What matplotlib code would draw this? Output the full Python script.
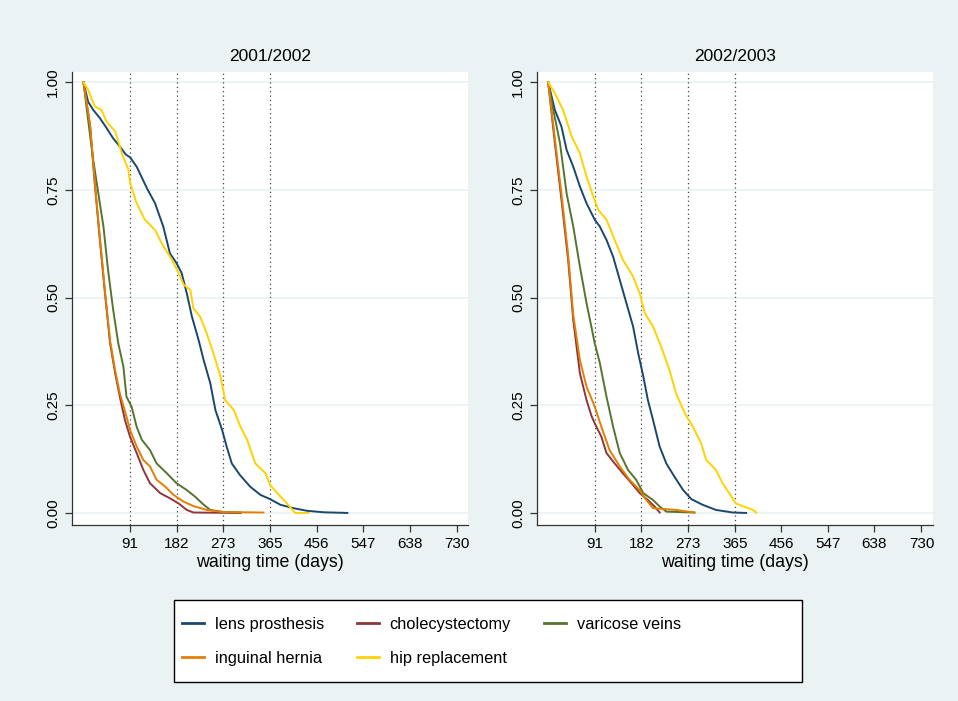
import numpy as np
import matplotlib.pyplot as plt
from matplotlib.patches import Rectangle

plt.rcParams['font.family'] = ['Liberation Sans', 'DejaVu Sans']

# Kaplan-Meier curves: (day, share still waiting)
panels = ["2001/2002", "2002/2003"]
labels = ["lens prosthesis", "cholecystectomy", "varicose veins", "inguinal hernia", "hip replacement"]
colors = ["#1A476F", "#90353B", "#55752F", "#E37E00", "#FFD200"]

lens_01_days = [0, 9, 19, 32, 45, 58, 71, 83, 91, 104, 124, 140, 156, 169, 182, 192, 202, 212, 225, 235,
                248, 258, 271, 280, 290, 306, 326, 346, 365, 385, 411, 437, 470, 516]
lens_01_surv = [1.0, 0.955, 0.936, 0.917, 0.894, 0.870, 0.851, 0.832, 0.826, 0.804, 0.754, 0.719, 0.665,
                0.603, 0.580, 0.557, 0.510, 0.456, 0.402, 0.355, 0.301, 0.239, 0.193, 0.154, 0.115, 0.088,
                0.061, 0.042, 0.032, 0.019, 0.011, 0.005, 0.0015, 0.0]
chol_01_days = [0, 13, 22, 32, 42, 52, 62, 71, 81, 91, 104, 117, 130, 150, 169, 186, 202, 215, 307]
chol_01_surv = [1.0, 0.897, 0.766, 0.634, 0.510, 0.394, 0.324, 0.270, 0.216, 0.177, 0.139, 0.100, 0.069,
                0.046, 0.034, 0.022, 0.007, 0.001, 0.0]
vari_01_days = [0, 9, 19, 29, 39, 48, 58, 68, 78, 84, 94, 104, 114, 130, 143, 163, 182, 202, 218, 235,
                248, 274, 307]
vari_01_surv = [1.0, 0.913, 0.820, 0.742, 0.665, 0.564, 0.472, 0.394, 0.340, 0.270, 0.247, 0.200, 0.170,
                0.146, 0.115, 0.092, 0.069, 0.053, 0.038, 0.019, 0.007, 0.002, 0.001]
hern_01_days = [0, 13, 22, 32, 42, 52, 62, 71, 84, 91, 104, 117, 130, 143, 160, 176, 196, 215, 241, 274, 352]
hern_01_surv = [1.0, 0.900, 0.770, 0.640, 0.515, 0.400, 0.330, 0.278, 0.224, 0.193, 0.154, 0.123, 0.108,
                0.077, 0.061, 0.042, 0.026, 0.016, 0.007, 0.002, 0.001]
hip_01_days = [0, 9, 22, 35, 45, 62, 75, 88, 91, 104, 120, 140, 153, 173, 186, 196, 209, 215, 228, 241,
               254, 268, 277, 294, 307, 320, 336, 356, 365, 379, 395, 414, 440]
hip_01_surv = [1.0, 0.983, 0.944, 0.936, 0.909, 0.886, 0.835, 0.797, 0.766, 0.719, 0.681, 0.657, 0.626,
               0.588, 0.557, 0.530, 0.518, 0.475, 0.456, 0.417, 0.371, 0.317, 0.262, 0.239, 0.200, 0.170,
               0.115, 0.092, 0.065, 0.046, 0.026, 0.0, 0.0]

lens_02_days = [0, 13, 26, 36, 49, 62, 75, 91, 101, 114, 127, 140, 153, 166, 176, 186, 195, 205, 218, 231,
                247, 264, 280, 302, 328, 361, 387]
lens_02_surv = [1.0, 0.936, 0.897, 0.843, 0.804, 0.758, 0.719, 0.681, 0.665, 0.634, 0.595, 0.541, 0.487,
                0.433, 0.371, 0.317, 0.262, 0.216, 0.154, 0.115, 0.084, 0.053, 0.032, 0.019, 0.007, 0.001, 0.0]
chol_02_days = [0, 13, 26, 39, 49, 62, 75, 85, 91, 104, 114, 130, 146, 163, 179, 195, 208, 218]
chol_02_surv = [1.0, 0.859, 0.727, 0.588, 0.448, 0.324, 0.262, 0.224, 0.208, 0.177, 0.139, 0.115, 0.092,
                0.069, 0.046, 0.030, 0.015, 0.001]
vari_02_days = [0, 10, 23, 36, 49, 62, 75, 91, 101, 114, 127, 140, 156, 172, 186, 205, 218, 231, 286]
vari_02_surv = [1.0, 0.936, 0.859, 0.742, 0.665, 0.572, 0.487, 0.394, 0.348, 0.270, 0.200, 0.139, 0.100,
                0.077, 0.046, 0.030, 0.015, 0.003, 0.001]
hern_02_days = [0, 13, 26, 39, 49, 62, 75, 91, 104, 120, 140, 159, 179, 192, 205, 250, 286]
hern_02_surv = [1.0, 0.870, 0.740, 0.600, 0.460, 0.355, 0.293, 0.247, 0.200, 0.146, 0.108, 0.077, 0.053,
                0.030, 0.011, 0.007, 0.001]
hip_02_days = [0, 13, 29, 46, 62, 75, 88, 98, 114, 130, 146, 166, 179, 189, 205, 221, 237, 250, 267, 283,
               299, 309, 328, 341, 354, 367, 387, 400, 407]
hip_02_surv = [1.0, 0.975, 0.936, 0.874, 0.835, 0.781, 0.735, 0.704, 0.681, 0.634, 0.588, 0.549, 0.510,
               0.464, 0.433, 0.386, 0.332, 0.278, 0.232, 0.200, 0.162, 0.123, 0.100, 0.069, 0.046, 0.022,
               0.013, 0.007, 0.001]

curves = [
    [(lens_01_days, lens_01_surv), (chol_01_days, chol_01_surv), (vari_01_days, vari_01_surv),
     (hern_01_days, hern_01_surv), (hip_01_days, hip_01_surv)],
    [(lens_02_days, lens_02_surv), (chol_02_days, chol_02_surv), (vari_02_days, vari_02_surv),
     (hern_02_days, hern_02_surv), (hip_02_days, hip_02_surv)],
]

xticks = [91, 182, 273, 365, 456, 547, 638, 730]
ref_days = [91, 182, 273, 365]
yticks = [0, 0.25, 0.5, 0.75, 1.0]

bg = "#EAF2F3"
fig = plt.figure(figsize=(9.58, 7.01), dpi=100, facecolor=bg)

lefts = [72 / 958, 536.7 / 958]
handles = []
for i, (title, left) in enumerate(zip(panels, lefts)):
    ax = fig.add_axes([left, 1 - 525 / 701, 396 / 958, 453 / 701])
    ax.set_facecolor("white")
    for y in yticks:
        ax.axhline(y, color=bg, lw=1.2, zorder=0)
    for d in ref_days:
        ax.axvline(d, color="#444444", lw=0.9, ls=(0, (1, 2.5)), zorder=1)
    lines = []
    for (days, surv), c in zip(curves[i], colors):
        ln, = ax.plot(days, surv, color=c, lw=1.4, zorder=2)
        lines.append(ln)
    handles = lines
    ax.set_xlim(-22.5, 752)
    ax.set_ylim(-0.028, 1.024)
    ax.set_xticks(xticks)
    ax.set_yticks(yticks)
    ax.set_yticklabels([f"{v:.2f}" for v in yticks], rotation=90, va="center")
    ax.tick_params(axis="both", labelsize=11, length=5, color="#333333", width=0.9)
    for s in ["top", "right"]:
        ax.spines[s].set_visible(False)
    for s in ["left", "bottom"]:
        ax.spines[s].set_color("#333333")
        ax.spines[s].set_linewidth(0.9)
    ax.set_xlabel("waiting time (days)", fontsize=12.8, labelpad=2)
    ax.set_title(title, fontsize=12.5, pad=8)

# legend box, wider than its content as in the original
fig.patches.append(Rectangle((174 / 958, 19 / 701), 628 / 958, 82 / 701, transform=fig.transFigure,
                             facecolor="white", edgecolor="black", lw=1.0, zorder=0))
order = [0, 3, 1, 4, 2]
leg = fig.legend([handles[k] for k in order], [labels[k] for k in order],
                 loc="upper left", bbox_to_anchor=(182 / 958, 1 - 617 / 701),
                 ncol=3, fontsize=11.8, frameon=False, handlelength=1.35, handletextpad=0.65,
                 columnspacing=2.0, borderaxespad=0, borderpad=0, labelspacing=1.15)
for ln in leg.get_lines():
    ln.set_linewidth(2)

fig.savefig("out.png", dpi=100, facecolor=bg)
